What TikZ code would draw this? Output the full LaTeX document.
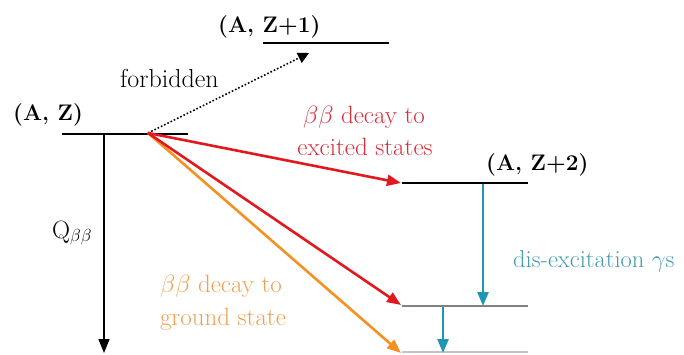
\documentclass[tikz,border=0pt]{standalone}
\usepackage{fix-cm}
\usetikzlibrary{arrows.meta}
\definecolor{myred}{RGB}{225,25,30}
\definecolor{redtxt}{RGB}{215,45,60}
\definecolor{myorange}{RGB}{245,145,35}
\definecolor{orangetxt}{RGB}{240,160,80}
\definecolor{myteal}{RGB}{30,150,180}
\definecolor{tealtxt}{RGB}{70,155,175}
\definecolor{lvlgray}{RGB}{130,130,130}
\definecolor{lvllight}{RGB}{195,195,195}
\newcommand{\bb}{$\beta\beta$}
\begin{document}
\begin{tikzpicture}[x=1pt,y=-1pt,
  lvl/.style={line width=1.5pt},
  tipend/.style={-{Triangle[length=14pt,width=11pt]}},
  lbl/.style={font=\fontsize{25}{32}\selectfont, inner sep=0pt, anchor=base west},
  ctr/.style={font=\fontsize{25}{32}\selectfont, inner sep=0pt, anchor=base},
  bold/.style={font=\fontsize{22.5}{32}\selectfont\bfseries}]
\useasboundingbox (0,0) rectangle (684,354);
% levels
\coordinate (az1) at (62,134);   \coordinate (az2) at (188,134);
\coordinate (b1) at (263,43);    \coordinate (b2) at (389,43);
\coordinate (c1) at (402,183);   \coordinate (c2) at (528,183);
\coordinate (d1) at (402,306);   \coordinate (d2) at (528,306);
\coordinate (e1) at (402,352);   \coordinate (e2) at (528,352);
\draw[lvl] (az1) -- (az2);
\draw[lvl] (b1) -- (b2);
\draw[lvl] (c1) -- (c2);
\draw[lvl, lvlgray] (d1) -- (d2);
\draw[lvl, lvllight] (e1) -- (e2);
% source point and targets
\coordinate (src) at (148,133);
\coordinate (tforb) at (309,53);
\coordinate (tc) at (401,183);
\coordinate (td) at (401,305);
\coordinate (te) at (401,353);
\coordinate (qs) at (104,134);
\coordinate (qe) at (104,353);
\coordinate (g1s) at (483,184);
\coordinate (g1e) at (483,306);
\coordinate (g2s) at (443,307);
\coordinate (g2e) at (443,353);
% arrows
\draw[line width=1.5pt, tipend] (qs) -- (qe);
\draw[line width=1.6pt, dotted, -{Triangle[length=11pt,width=11pt]}] (src) -- (tforb);
\draw[line width=2.6pt, myorange, tipend] (src) -- (te);
\draw[line width=2.6pt, myred, tipend] (src) -- (tc);
\draw[line width=2.6pt, myred, tipend] (src) -- (td);
\draw[line width=2.6pt, myteal, tipend] (g1s) -- (g1e);
\draw[line width=2.6pt, myteal, tipend] (g2s) -- (g2e);
% labels
\node[lbl, bold] (lAZ) at (13,120) {(A, Z)};
\node[lbl, bold] (lAZ1) at (218,32) {(A, Z+1)};
\node[lbl, bold] (lAZ2) at (486,170) {(A, Z+2)};
\node[lbl, font=\fontsize{26}{32}\selectfont] (lforb) at (120,87) {forbidden};
\node[lbl] (lQ) at (52,238) {Q\textsubscript{\bb}};
\node[ctr, redtxt] (lr1) at (364,123) {\bb{} decay to};
\node[ctr, redtxt] (lr2) at (365,155) {excited states};
\node[ctr, orangetxt] (lo1) at (221,292) {\bb{} decay to};
\node[ctr, orangetxt] (lo2) at (223,325) {ground state};
\node[lbl, tealtxt, font=\fontsize{24.5}{32}\selectfont] (lg) at (513,267) {dis-excitation $\gamma$s};
\end{tikzpicture}
\end{document}
